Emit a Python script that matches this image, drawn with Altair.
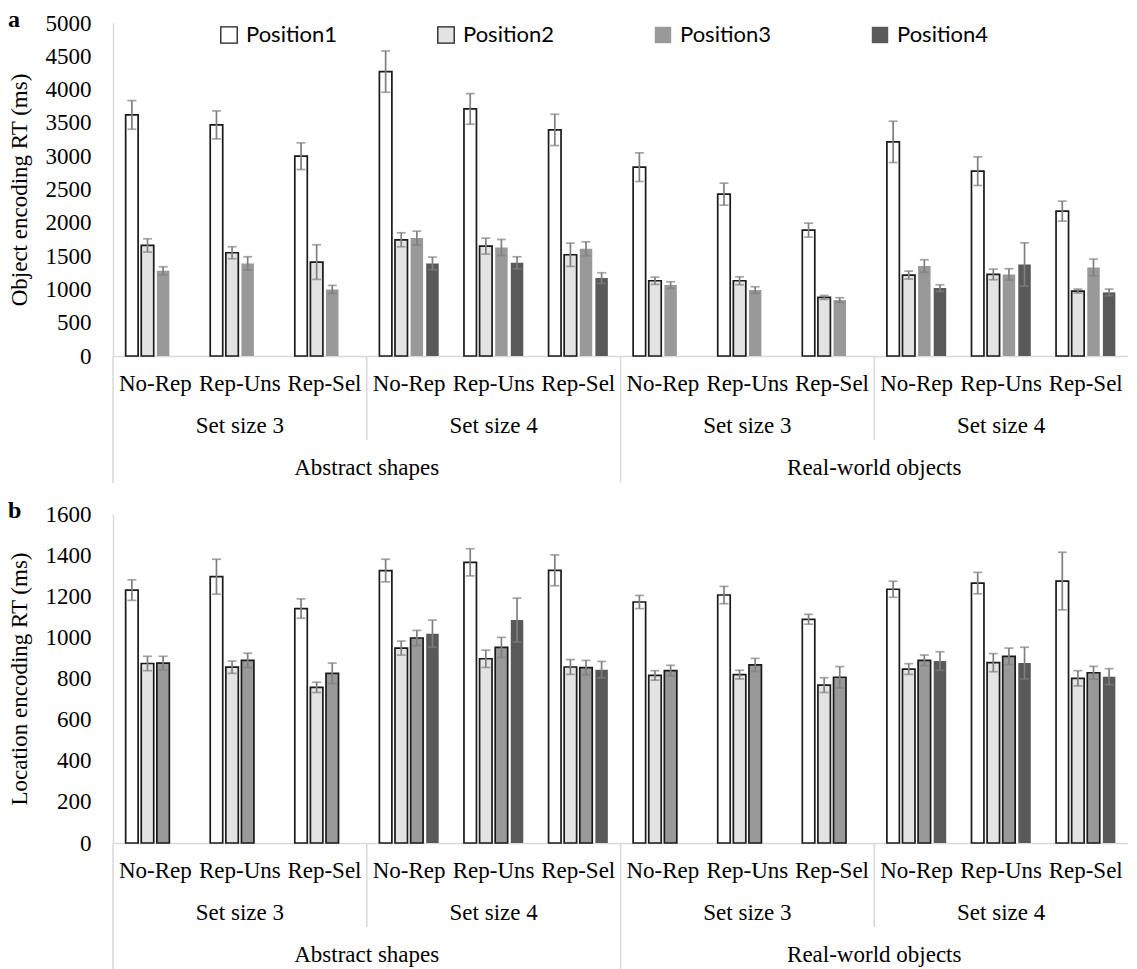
import altair as alt
import pandas as pd

conditions = ["No-Rep", "Rep-Uns", "Rep-Sel"]
set_sizes = ["Set size 3", "Set size 4", "Set size 3", "Set size 4"]
stimuli = ["Abstract shapes", "Real-world objects"]
positions = ["Position1", "Position2", "Position3", "Position4"]
fills = ["#ffffff", "#e3e3e3", "#999999", "#595959"]

# Panel a: object encoding RT (ms), 12 groups (cond x set size x stimulus)
obj_p1 = [3620, 3470, 3000, 4270, 3710, 3395, 2835, 2430, 1890, 3215, 2775, 2175]
obj_p1_err = [215, 210, 200, 310, 230, 235, 215, 165, 105, 310, 215, 150]
obj_p2 = [1660, 1550, 1410, 1745, 1650, 1520, 1130, 1130, 880, 1215, 1225, 975]
obj_p2_err = [100, 90, 260, 105, 120, 175, 55, 60, 30, 60, 80, 30]
obj_p3 = [1280, 1390, 1000, 1770, 1630, 1610, 1065, 990, 840, 1350, 1225, 1330]
obj_p3_err = [60, 100, 60, 105, 120, 105, 50, 50, 35, 95, 85, 125]
obj_p4 = [None, None, None, 1390, 1400, 1170, None, None, None, 1020, 1375, 955]
obj_p4_err = [None, None, None, 95, 90, 80, None, None, None, 50, 325, 50]

# Panel b: location encoding RT (ms)
loc_p1 = [1230, 1295, 1140, 1325, 1365, 1326, 1172, 1206, 1088, 1234, 1264, 1274]
loc_p1_err = [50, 85, 47, 55, 66, 75, 32, 42, 24, 39, 52, 140]
loc_p2 = [873, 855, 757, 948, 896, 856, 815, 819, 768, 846, 877, 801]
loc_p2_err = [35, 30, 25, 34, 42, 36, 23, 21, 36, 26, 44, 37]
loc_p3 = [875, 888, 825, 997, 951, 853, 838, 866, 806, 888, 908, 828]
loc_p3_err = [33, 35, 50, 37, 49, 35, 26, 32, 52, 26, 40, 31]
loc_p4 = [None, None, None, 1018, 1084, 843, None, None, None, 885, 875, 809]
loc_p4_err = [None, None, None, 66, 107, 40, None, None, None, 45, 77, 39]

W = 1015
SERIF = "Liberation Serif"
GRID = "#d9d9d9"
ERR = "#7f7f7f"


def panel(series, errs, ymax, ystep, ytitle, letter, stroke_range, show_legend, H):
    rows = []
    for pi, (vals, es) in enumerate(zip(series, errs)):
        for g, (v, e) in enumerate(zip(vals, es)):
            if v is None:
                continue
            rows.append(dict(g=g, pos=positions[pi], val=v, lo=v - e, hi=v + e))
    df = pd.DataFrame(rows)

    xscale = alt.Scale(domain=list(range(12)), paddingInner=0, paddingOuter=0)
    xoff = alt.XOffset("pos:N", scale=alt.Scale(domain=positions, paddingInner=0.2, paddingOuter=0.81))
    yscale = alt.Scale(domain=[0, ymax], nice=False)

    if show_legend:
        leg = alt.Legend(title=None, orient="none", legendX=105, legendY=1,
                         direction="horizontal", columns=4, symbolType="square",
                         symbolSize=270, symbolStrokeWidth=1.3, labelFont="Lato",
                         labelFontSize=22, labelColor="#000", columnPadding=98,
                         labelOffset=6)
    else:
        leg = None

    xaxis = alt.Axis(title=None, labelExpr="['No-Rep','Rep-Uns','Rep-Sel'][datum.value % 3]",
                     ticks=False, domainColor=GRID, domainWidth=1.5, labelAngle=0,
                     labelFont=SERIF, labelFontSize=23, labelColor="#000",
                     labelBaseline="middle", labelPadding=27)
    yaxis = alt.Axis(title=ytitle, values=list(range(0, ymax + 1, ystep)), format="d", ticks=False,
                     domainColor=GRID, domainWidth=1.5, grid=False,
                     labelFont=SERIF, labelFontSize=23, labelColor="#000", labelPadding=22,
                     titleFont=SERIF, titleFontSize=23, titleFontWeight="normal",
                     titleColor="#000", titlePadding=14)

    X = alt.X("g:O", scale=xscale, axis=xaxis)

    def Y(field):
        return alt.Y(field, scale=yscale, axis=yaxis)

    bars = alt.Chart(df).mark_bar(strokeWidth=1.7).encode(
        x=X,
        xOffset=xoff,
        y=Y("val:Q"),
        fill=alt.Fill("pos:N", scale=alt.Scale(domain=positions, range=fills), legend=leg),
        stroke=alt.Stroke("pos:N", scale=alt.Scale(domain=positions, range=stroke_range), legend=leg),
    )
    rule = alt.Chart(df).mark_rule(color=ERR, strokeWidth=1.7).encode(
        x=X, xOffset=xoff, y=Y("lo:Q"), y2="hi:Q")
    cap_hi = alt.Chart(df).mark_tick(color=ERR, size=9, thickness=1.7).encode(
        x=X, xOffset=xoff, y=Y("hi:Q"))
    cap_lo = alt.Chart(df).mark_tick(color=ERR, size=9, thickness=1.7).encode(
        x=X, xOffset=xoff, y=Y("lo:Q"))

    ss_df = pd.DataFrame({"g": [1, 4, 7, 10], "label": set_sizes})
    ss_text = alt.Chart(ss_df).mark_text(font=SERIF, fontSize=23, color="#000", baseline="middle").encode(
        x=X, y=alt.value(H + 70), text="label:N")
    st_df = pd.DataFrame({"g": [2, 8], "label": stimuli})
    st_text = alt.Chart(st_df).mark_text(font=SERIF, fontSize=23, color="#000", baseline="middle").encode(
        x=alt.X("g:O", scale=xscale, axis=xaxis, bandPosition=1), y=alt.value(H + 112), text="label:N")

    long_df = pd.DataFrame({"g": [0, 6]})
    long_rule = alt.Chart(long_df).mark_rule(color=GRID, strokeWidth=1.5).encode(
        x=alt.X("g:O", scale=xscale, axis=xaxis, bandPosition=0), y=alt.value(H), y2=alt.value(H + 127))
    short_df = pd.DataFrame({"g": [3, 9]})
    short_rule = alt.Chart(short_df).mark_rule(color=GRID, strokeWidth=1.5).encode(
        x=alt.X("g:O", scale=xscale, axis=xaxis, bandPosition=0), y=alt.value(H), y2=alt.value(H + 84))

    return alt.layer(bars, rule, cap_hi, cap_lo, ss_text, st_text, long_rule, short_rule).properties(
        width=W, height=H,
        title=alt.TitleParams(letter, anchor="start", frame="bounds", font=SERIF, fontSize=24,
                              fontWeight="bold", color="#000", offset=-20),
    )


pa = panel([obj_p1, obj_p2, obj_p3, obj_p4], [obj_p1_err, obj_p2_err, obj_p3_err, obj_p4_err],
           5000, 500, "Object encoding RT (ms)", "a",
           ["#1a1a1a", "#1a1a1a", "transparent", "transparent"], True, 333)
pb = panel([loc_p1, loc_p2, loc_p3, loc_p4], [loc_p1_err, loc_p2_err, loc_p3_err, loc_p4_err],
           1600, 200, "Location encoding RT (ms)", "b",
           ["#1a1a1a", "#1a1a1a", "#1a1a1a", "transparent"], False, 329)

chart = alt.vconcat(pa, pb, spacing=15).resolve_scale(
    fill="independent", stroke="independent", x="independent", y="independent", xOffset="independent"
).resolve_legend(fill="independent", stroke="independent").properties(padding=0).configure_view(stroke=None)

chart.save("out.html", embed_options={"renderer": "svg", "actions": False})
